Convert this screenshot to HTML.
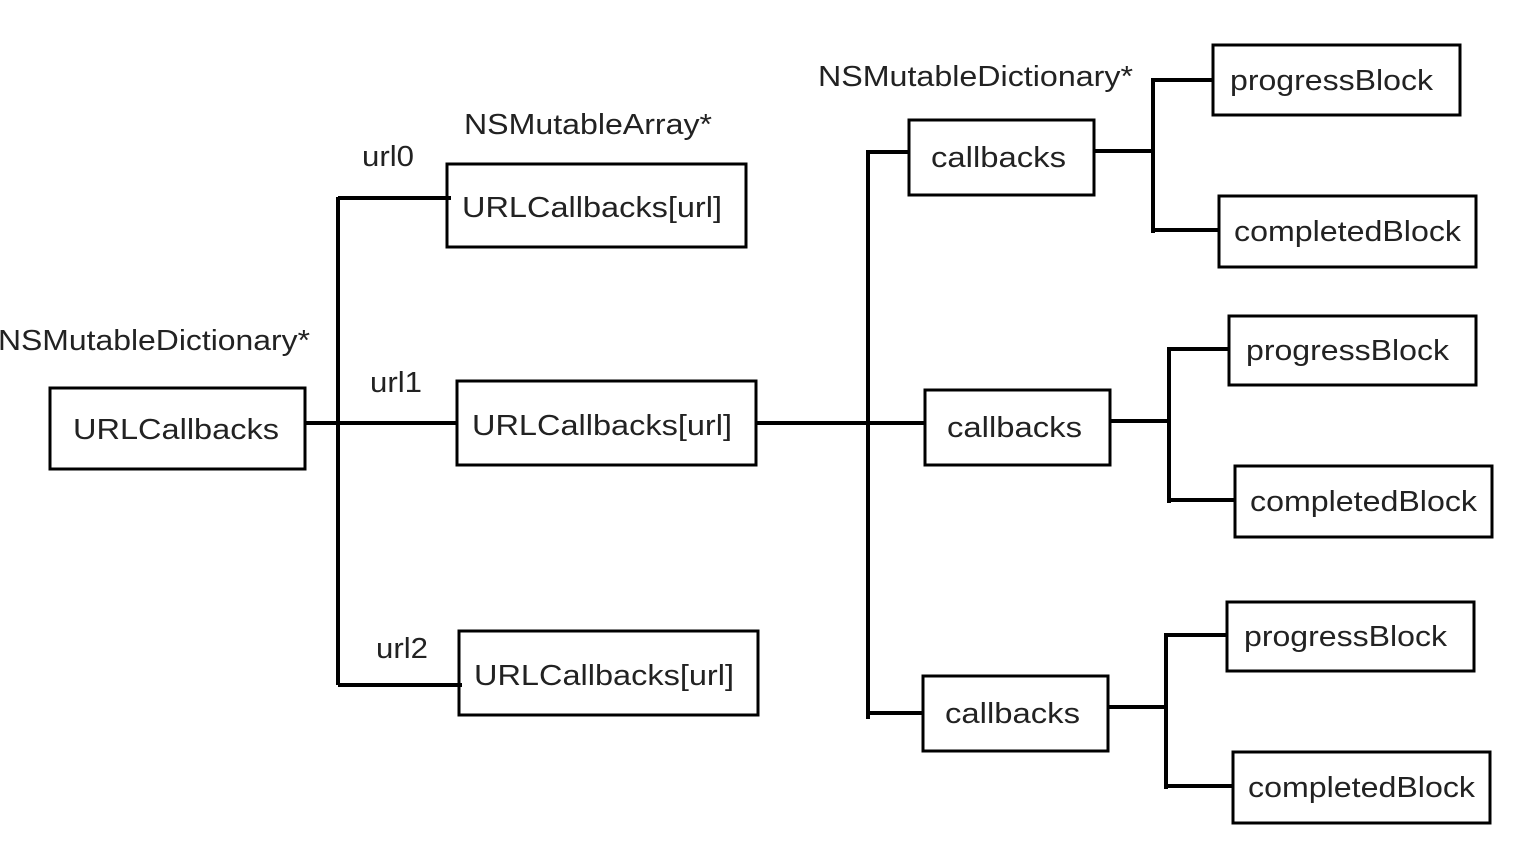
<!DOCTYPE html>
<html><head><meta charset="utf-8"><style>
html,body{margin:0;padding:0;background:#fff;}
svg{display:block;}
text{font-family:"Liberation Sans",sans-serif;font-size:29px;fill:#222;}
</style></head><body>
<svg width="1516" height="856" viewBox="0 0 1516 856" xmlns="http://www.w3.org/2000/svg">
<g fill="none" stroke="#000" stroke-width="3">
<rect x="50" y="388" width="255" height="81"/>
<rect x="447" y="164" width="299" height="83"/>
<rect x="457" y="381" width="299" height="84"/>
<rect x="459" y="631" width="299" height="84"/>
<rect x="909" y="120" width="185" height="75"/>
<rect x="925" y="390" width="185" height="75"/>
<rect x="923" y="676" width="185" height="75"/>
<rect x="1213" y="45" width="247" height="70"/>
<rect x="1219" y="196" width="257" height="71"/>
<rect x="1229" y="316" width="247" height="69"/>
<rect x="1235" y="466" width="257" height="71"/>
<rect x="1227" y="602" width="247" height="69"/>
<rect x="1233" y="752" width="257" height="71"/>
</g>
<g fill="none" stroke="#000" stroke-width="4">
<path d="M305 423H457M338 197V685M338 198H451M338 685H462"/>
<path d="M756 423H925M868 150V719M866 152H909M868 713H923"/>
<path d="M1094 151H1153M1153 78V233M1153 80H1213M1153 230H1219"/>
<path d="M1110 421H1169M1169 347V503M1169 349H1229M1169 500H1235"/>
<path d="M1108 707H1166M1166 633V789M1166 635H1227M1166 786H1233"/>
</g>
<g lengthAdjust="spacingAndGlyphs">
<text x="-2" y="350" textLength="312" lengthAdjust="spacingAndGlyphs">NSMutableDictionary*</text>
<text x="73" y="439" textLength="206" lengthAdjust="spacingAndGlyphs">URLCallbacks</text>
<text x="362" y="166" textLength="52" lengthAdjust="spacingAndGlyphs">url0</text>
<text x="370" y="392" textLength="52" lengthAdjust="spacingAndGlyphs">url1</text>
<text x="376" y="658" textLength="52" lengthAdjust="spacingAndGlyphs">url2</text>
<text x="464" y="134" textLength="248" lengthAdjust="spacingAndGlyphs">NSMutableArray*</text>
<text x="462" y="217" textLength="260" lengthAdjust="spacingAndGlyphs">URLCallbacks[url]</text>
<text x="472" y="435" textLength="260" lengthAdjust="spacingAndGlyphs">URLCallbacks[url]</text>
<text x="474" y="685" textLength="260" lengthAdjust="spacingAndGlyphs">URLCallbacks[url]</text>
<text x="818" y="86" textLength="315" lengthAdjust="spacingAndGlyphs">NSMutableDictionary*</text>
<text x="931" y="167" textLength="135" lengthAdjust="spacingAndGlyphs">callbacks</text>
<text x="947" y="437" textLength="135" lengthAdjust="spacingAndGlyphs">callbacks</text>
<text x="945" y="723" textLength="135" lengthAdjust="spacingAndGlyphs">callbacks</text>
<text x="1230" y="90" textLength="203" lengthAdjust="spacingAndGlyphs">progressBlock</text>
<text x="1234" y="241" textLength="227" lengthAdjust="spacingAndGlyphs">completedBlock</text>
<text x="1246" y="360" textLength="203" lengthAdjust="spacingAndGlyphs">progressBlock</text>
<text x="1250" y="511" textLength="227" lengthAdjust="spacingAndGlyphs">completedBlock</text>
<text x="1244" y="646" textLength="203" lengthAdjust="spacingAndGlyphs">progressBlock</text>
<text x="1248" y="797" textLength="227" lengthAdjust="spacingAndGlyphs">completedBlock</text>
</g>
</svg>
</body></html>
